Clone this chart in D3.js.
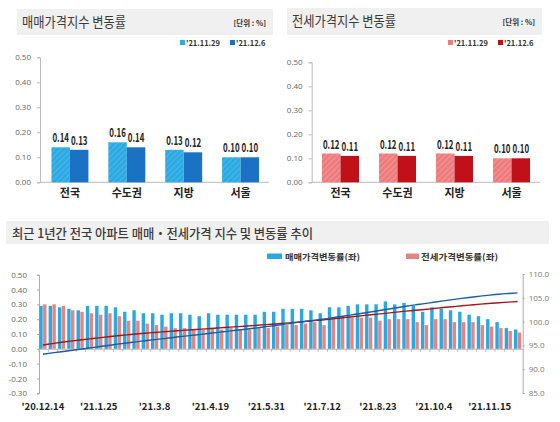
<!DOCTYPE html>
<html><head><meta charset="utf-8">
<script src="https://cdn.jsdelivr.net/npm/d3@7"></script>
<style>body{margin:0;background:#fff;} svg{display:block;font-family:"Noto Sans CJK KR","Noto Sans",sans-serif;}</style>
</head><body><svg id="c" width="560" height="422"></svg>
<script>
// ---- top panels data ----
const regions = ["전국","수도권","지방","서울"];
const weekKeys = ["'21.11.29","'21.12.6"];
const saleNov29 = [0.14,0.16,0.13,0.10];
const saleDec6  = [0.13,0.14,0.12,0.10];
const jeonseNov29 = [0.12,0.12,0.12,0.10];
const jeonseDec6  = [0.11,0.11,0.11,0.10];
const topTicks = [0,0.1,0.2,0.3,0.4,0.5];

// ---- bottom chart data (weekly, '20.12.14 ~ '21.12.6) ----
const weeks = ["20.12.14","20.12.21","20.12.28","21.1.4","21.1.11","21.1.18","21.1.25","21.2.1","21.2.8","21.2.15","21.2.22",
"21.3.1","21.3.8","21.3.15","21.3.22","21.3.29","21.4.5","21.4.12","21.4.19","21.4.26","21.5.3","21.5.10","21.5.17","21.5.24","21.5.31",
"21.6.7","21.6.14","21.6.21","21.6.28","21.7.5","21.7.12","21.7.19","21.7.26","21.8.2","21.8.9","21.8.16","21.8.23","21.8.30",
"21.9.6","21.9.13","21.9.20","21.9.27","21.10.4","21.10.11","21.10.18","21.10.25","21.11.1","21.11.8","21.11.15","21.11.22","21.11.29","21.12.6"];
const saleRate = [0.29,0.29,0.28,0.27,0.26,0.29,0.29,0.29,0.28,0.25,0.26,0.24,0.24,0.23,0.24,0.24,0.23,0.22,0.24,0.23,0.23,0.23,0.23,0.23,0.25,0.25,
0.27,0.27,0.27,0.26,0.24,0.28,0.28,0.29,0.30,0.30,0.30,0.32,0.30,0.31,0.29,0.25,0.28,0.27,0.26,0.25,0.23,0.22,0.20,0.18,0.14,0.13];
const jeonseRate = [0.30,0.30,0.29,0.26,0.25,0.24,0.23,0.24,0.22,0.19,0.19,0.17,0.16,0.15,0.14,0.14,0.13,0.13,0.14,0.13,0.14,0.13,0.13,0.14,0.14,0.15,
0.16,0.16,0.17,0.18,0.16,0.20,0.22,0.21,0.21,0.21,0.19,0.20,0.20,0.20,0.18,0.16,0.20,0.20,0.18,0.18,0.18,0.16,0.15,0.14,0.12,0.11];
const saleIndex = [93.15,93.42,93.68,93.93,94.18,94.45,94.72,94.99,95.26,95.50,95.75,95.98,96.21,96.43,96.66,96.89,97.11,97.32,97.56,97.78,98.00,98.23,98.46,98.69,98.94,99.19,
99.46,99.73,100.00,100.26,100.50,100.78,101.06,101.35,101.66,101.96,102.27,102.60,102.90,103.22,103.52,103.78,104.07,104.35,104.62,104.88,105.12,105.35,105.56,105.75,105.90,106.04];
const jeonseIndex = [95.09,95.37,95.65,95.90,96.14,96.37,96.59,96.82,97.03,97.21,97.40,97.56,97.72,97.87,98.01,98.15,98.28,98.41,98.55,98.68,98.82,98.95,99.08,99.22,99.36,99.51,
99.67,99.83,100.00,100.18,100.34,100.54,100.76,100.97,101.18,101.39,101.58,101.78,101.99,102.19,102.37,102.54,102.74,102.95,103.13,103.32,103.50,103.67,103.82,103.97,104.09,104.21];
const leftTicks = [-0.3,-0.2,-0.1,0,0.1,0.2,0.3,0.4,0.5];
const rightTicks = [85,90,95,100,105,110];
const xTickLabels = ["'20.12.14","'21.1.25","'21.3.8","'21.4.19","'21.5.31","'21.7.12","'21.8.23","'21.10.4","'21.11.15"];
const legendBottom = ["매매가격변동률(좌)","전세가격변동률(좌)"];

const svg = d3.select("#c");
const defs = svg.append("defs");
function hatch(id, base, stripe){
  const p = defs.append("pattern").attr("id",id).attr("patternUnits","userSpaceOnUse")
    .attr("width",4).attr("height",4).attr("patternTransform","rotate(45)");
  p.append("rect").attr("width",4).attr("height",4).attr("fill",base);
  p.append("line").attr("x1",0).attr("y1",0).attr("x2",0).attr("y2",4).attr("stroke",stripe).attr("stroke-width",1.2);
}
hatch("hb","#2eaae3","#5cc0ec");
hatch("hr","#ee7c7c","#f6aaaa");

function panel(o){
  const g = svg.append("g");
  g.append("rect").attr("x",o.box[0]).attr("y",o.box[1]).attr("width",o.box[2]).attr("height",o.box[3]).attr("fill","#f0f0f0");
  g.append("text").attr("x",o.box[0]+5).attr("y",o.box[1]+18).attr("font-size",14).attr("fill","#3a3a3a")
    .attr("textLength",104).attr("lengthAdjust","spacingAndGlyphs").text(o.title);
  g.append("text").attr("x",o.box[0]+o.box[2]-7).attr("y",o.box[1]+17).attr("font-size",7.5).attr("font-weight",700)
    .attr("text-anchor","end").attr("fill","#333").text("[단위 : %]");
  o.legendX.forEach((lx,i)=>{
    g.append("rect").attr("x",lx).attr("y",o.legendY-3).attr("width",5).attr("height",5).attr("fill",o.legendColors[i]);
    g.append("text").attr("x",lx+6).attr("y",o.legendY+2.5).attr("font-size",7.5).attr("font-weight",700).attr("fill","#333").text(weekKeys[i]);
  });
  const y = d3.scaleLinear().domain([0,0.5]).range([182.3,o.yTop]);
  const x = d3.scaleBand().domain(regions).range(o.xr).paddingInner(0.35).paddingOuter(0.175);
  const xi = d3.scaleBand().domain(weekKeys).range([0,x.bandwidth()]);
  const ax = g.append("g").attr("transform",`translate(${o.axisX},0)`)
    .call(d3.axisLeft(y).tickValues(topTicks).tickSize(3).tickPadding(6).tickFormat(d=>d.toFixed(2)));
  ax.select(".domain").attr("stroke","#bbb");
  ax.selectAll(".tick line").attr("stroke","#bbb");
  ax.selectAll("text").attr("font-size",8).attr("fill","#666").attr("font-family","'Open Sans',sans-serif");
  g.append("line").attr("x1",o.axisX).attr("x2",o.xr[1]).attr("y1",y(0)).attr("y2",y(0)).attr("stroke","#bbb");
  const series = [o.v1,o.v2];
  series.forEach((vals,si)=>{
    g.selectAll(null).data(regions).enter().append("rect")
      .attr("x",d=>x(d)+xi(weekKeys[si])).attr("width",xi.bandwidth())
      .attr("y",(d,i)=>y(vals[i])).attr("height",(d,i)=>y(0)-y(vals[i]))
      .attr("fill",o.fills[si]);
    g.selectAll(null).data(regions).enter().append("text")
      .attr("transform",(d,i)=>`translate(${x(d)+xi(weekKeys[si])+xi.bandwidth()/2},${y(vals[i])-5}) scale(0.66,1)`)
      .attr("text-anchor","middle").attr("font-size",12).attr("font-weight",700).attr("fill","#222")
      .text((d,i)=>vals[i].toFixed(2));
  });
  g.selectAll(null).data(regions).enter().append("text")
    .attr("x",d=>x(d)+x.bandwidth()/2).attr("y",197).attr("text-anchor","middle")
    .attr("font-size",11).attr("font-weight",700).attr("fill","#222").text(d=>d);
}
panel({box:[17,9,256,26],title:"매매가격지수 변동률",legendX:[180,230],legendY:43,legendColors:["#2eaae3","#1b72c2"],
  yTop:57.3,xr:[41.5,269],axisX:40,v1:saleNov29,v2:saleDec6,fills:["url(#hb)","#1b72c2"]});
panel({box:[287,8,255,27],title:"전세가격지수 변동률",legendX:[448,498],legendY:43,legendColors:["#ee7c7c","#c0111a"],
  yTop:62.3,xr:[312,540],axisX:311.7,v1:jeonseNov29,v2:jeonseDec6,fills:["url(#hr)","#c0111a"]});

// ---- bottom chart ----
const b = svg.append("g");
b.append("rect").attr("x",6).attr("y",221).attr("width",543).attr("height",23).attr("fill","#f0f0f0");
b.append("text").attr("x",12).attr("y",237.5).attr("font-size",13).attr("font-weight",500).attr("fill","#3a3a3a")
  .attr("textLength",301).attr("lengthAdjust","spacingAndGlyphs").text("최근 1년간 전국 아파트 매매・전세가격 지수 및 변동률 추이");
const lgC = ["#2aa9e0","#e48585"];
[[267,285,75],[406,421,77]].forEach((p,i)=>{
  b.append("rect").attr("x",p[0]).attr("y",253.5).attr("width",i?13:15).attr("height",5.5).attr("fill",lgC[i]);
  b.append("text").attr("x",p[1]).attr("y",260).attr("font-size",8.5).attr("font-weight",700).attr("fill","#333")
    .attr("textLength",p[2]).attr("lengthAdjust","spacingAndGlyphs").text(legendBottom[i]);
});
const yL = d3.scaleLinear().domain([-0.3,0.5]).range([393.3,274.7]);
const yR = d3.scaleLinear().domain([85,110]).range([393,274]);
const x = d3.scaleBand().domain(weeks).range([39,523]);
const xi = d3.scaleBand().domain(["s","j"]).range([0.3,7.5]).paddingInner(0.1);
const cx = d => x(d)+3.9;

const axL = b.append("g").attr("transform","translate(39,0)")
  .call(d3.axisLeft(yL).tickValues(leftTicks).tickSize(2).tickPadding(10).tickFormat(d=>d.toFixed(2)));
axL.select(".domain").attr("stroke","#aaa");
axL.selectAll(".tick line").attr("stroke","#aaa");
axL.selectAll("text").attr("font-size",8).attr("fill","#666").attr("font-family","'Open Sans',sans-serif");
const axR = b.append("g").attr("transform","translate(522.7,0)")
  .call(d3.axisRight(yR).tickValues(rightTicks).tickSize(2).tickPadding(4).tickFormat(d=>d.toFixed(1)));
axR.select(".domain").attr("stroke","#aaa");
axR.selectAll(".tick line").attr("stroke","#aaa");
axR.selectAll("text").attr("font-size",8).attr("fill","#777").attr("font-family","'Open Sans',sans-serif");

const axX = b.append("g").attr("transform",`translate(0,${yL(0)})`)
  .call(d3.axisBottom(x).tickSize(0).tickFormat(""));
axX.select(".domain").attr("stroke","#bbb");
axX.selectAll(".tick").remove();
b.selectAll(null).data(weeks).enter().append("line")
  .attr("x1",d=>x(d)).attr("x2",d=>x(d)).attr("y1",yL(0)).attr("y2",yL(0)+3).attr("stroke","#bbb");

b.selectAll(null).data(weeks).enter().append("rect")
  .attr("x",d=>x(d)+xi("s")).attr("width",xi.bandwidth())
  .attr("y",(d,i)=>yL(saleRate[i])).attr("height",(d,i)=>yL(0)-yL(saleRate[i])).attr("fill","#2aa9e0");
b.selectAll(null).data(weeks).enter().append("rect")
  .attr("x",d=>x(d)+xi("j")).attr("width",xi.bandwidth())
  .attr("y",(d,i)=>yL(jeonseRate[i])).attr("height",(d,i)=>yL(0)-yL(jeonseRate[i])).attr("fill","#e48585");

const line = arr => d3.line().x(d=>cx(d)).y((d,i)=>yR(arr[i])).curve(d3.curveMonotoneX)(weeks);
b.append("path").attr("d",line(jeonseIndex)).attr("fill","none").attr("stroke","#a3161c").attr("stroke-width",1.4);
b.append("path").attr("d",line(saleIndex)).attr("fill","none").attr("stroke","#1f5b9e").attr("stroke-width",1.4);

const labelIdx = weeks.map((w,i)=>i).filter(i=>i%6===0);
b.selectAll(null).data(labelIdx).enter().append("text")
  .attr("x",i=>cx(weeks[i])).attr("y",410).attr("text-anchor","middle")
  .attr("font-size",9.5).attr("font-weight",700).attr("fill","#222").text((i,k)=>xTickLabels[k]);
</script></body></html>
